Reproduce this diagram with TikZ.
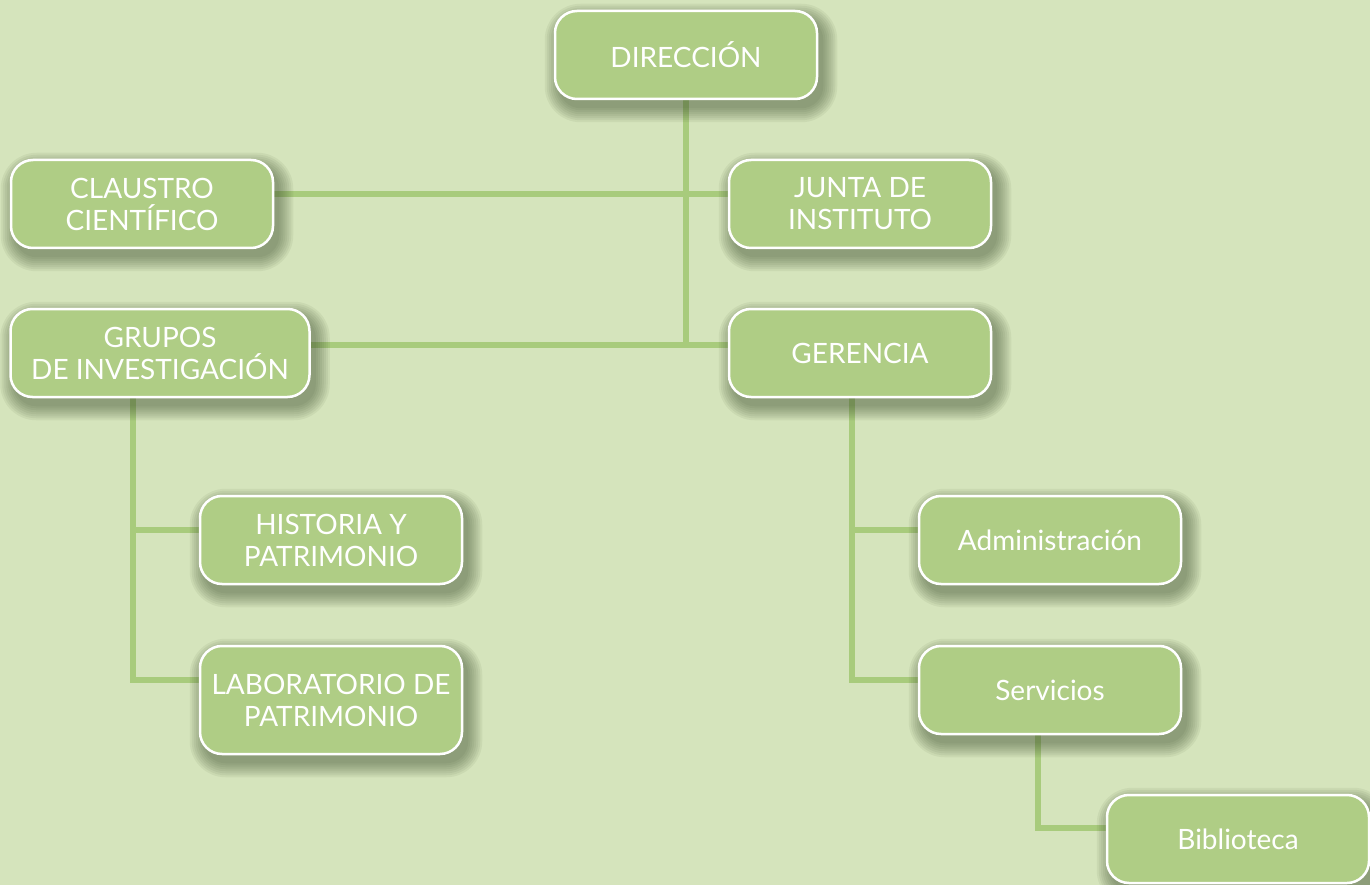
\documentclass[tikz,border=0pt]{standalone}
\usepackage{fontspec}
\setmainfont{Lato}
\definecolor{fondo}{HTML}{D5E4BC}
\definecolor{verde}{HTML}{AFCD85}
\definecolor{rama}{HTML}{A8CB7C}
\definecolor{oscuro}{HTML}{3A4A2A}
\pgfdeclarelayer{fondo}
\pgfdeclarelayer{lineas}
\pgfdeclarelayer{sombra}
\pgfsetlayers{fondo,lineas,sombra,main}
\tikzset{
  caja/.style={draw=white, line width=2.5pt, fill=verde, rounded corners=22pt,
    text=white, align=center, minimum width=262pt, minimum height=88pt,
    font=\fontsize{28}{32}\selectfont},
  linea/.style={draw=rama, line width=6pt, line join=miter}
}
\begin{document}
\begin{tikzpicture}[x=1pt,y=-1pt]
\useasboundingbox (0,0) rectangle (1370,885);
\begin{pgfonlayer}{fondo}
\fill[fondo] (0,0) rectangle (1370,885);
\end{pgfonlayer}
% cajas
\node[caja] (dir) at (686,55) {DIRECCIÓN};
\node[caja] (claustro) at (142,204) {CLAUSTRO\\CIENTÍFICO};
\node[caja] (junta) at (860,204) {JUNTA DE\\INSTITUTO};
\node[caja, minimum width=299pt] (grupos) at (160,353) {GRUPOS\\DE INVESTIGACIÓN};
\node[caja] (gerencia) at (860,353) {GERENCIA};
\node[caja] (historia) at (331,540) {HISTORIA Y\\PATRIMONIO};
\node[caja, minimum height=108pt] (lab) at (331,700) {LABORATORIO DE\\PATRIMONIO};
\node[caja] (admin) at (1050,540) {Administración};
\node[caja] (servicios) at (1050,690) {Servicios};
\node[caja] (biblio) at (1238,839) {Biblioteca};
\coordinate (cruce) at (686,345);
% sombras
\begin{pgfonlayer}{sombra}
\foreach \n in {dir,claustro,junta,grupos,gerencia,historia,lab,admin,servicios,biblio}
  \foreach \d in {14,12,...,0}
    \fill[oscuro, opacity=0.07, rounded corners=(22+\d)*1pt]
      ([xshift=(5-\d)*1pt, yshift=(-8-\d)*1pt]\n.south west) rectangle
      ([xshift=(5+\d)*1pt, yshift=(-8+\d)*1pt]\n.north east);
\end{pgfonlayer}
% ramas
\begin{pgfonlayer}{lineas}
\draw[linea] (dir.south) -- (cruce);
\draw[linea] ([yshift=10pt]claustro.east) -- ([yshift=10pt]junta.west);
\draw[linea] ([yshift=8pt]grupos.east) -- ([yshift=8pt]gerencia.west);
\draw[linea] ([xshift=-27pt]grupos.south) |- ([yshift=20pt]lab.west);
\draw[linea] ([yshift=10pt]historia.west) -| ([xshift=-27pt]grupos.south);
\draw[linea] ([xshift=-8pt]gerencia.south) |- ([yshift=10pt]servicios.west);
\draw[linea] ([yshift=10pt]admin.west) -| ([xshift=-8pt]gerencia.south);
\draw[linea] ([xshift=-12pt]servicios.south) |- ([yshift=11pt]biblio.west);
\end{pgfonlayer}
\end{tikzpicture}
\end{document}
